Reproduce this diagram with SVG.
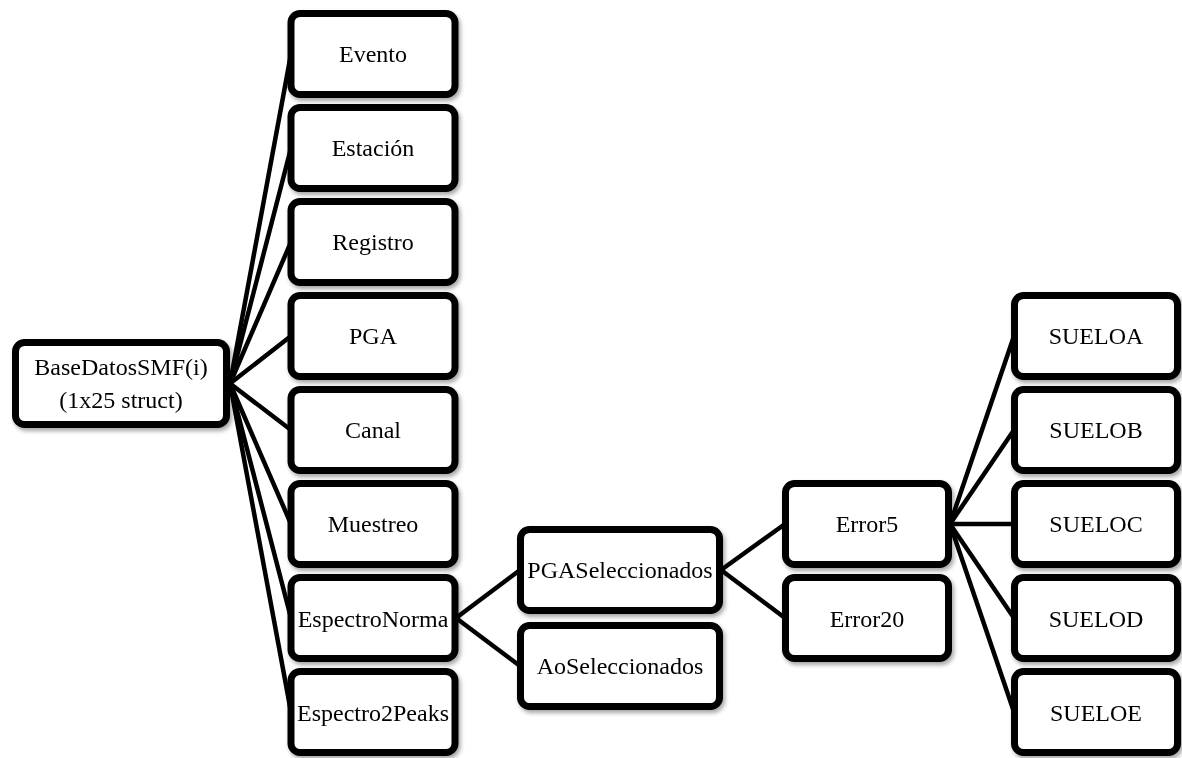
<svg xmlns="http://www.w3.org/2000/svg" width="1182" height="758" viewBox="0 0 1182 758">
  <style>
    .box { fill: #ffffff; stroke: #000000; stroke-width: 7; }
    .label { font-family: "Liberation Serif", "Times New Roman", serif; font-size: 24px; fill: #000000; text-anchor: middle; }
    .link { stroke: #000000; stroke-width: 4.5; fill: none; stroke-linecap: round; }
  </style>
  <defs>
    <filter id="shadow" x="-10%" y="-10%" width="125%" height="130%">
      <feDropShadow dx="2" dy="3" stdDeviation="2" flood-color="#000000" flood-opacity="0.35"/>
    </filter>
  </defs>
  <rect width="1182" height="758" fill="#ffffff"/>

  <!-- connectors -->
  <g id="connectors">
    <!-- root to fields -->
    <line class="link" x1="230" y1="383.5" x2="291" y2="54"/>
    <line class="link" x1="230" y1="383.5" x2="291" y2="148"/>
    <line class="link" x1="230" y1="383.5" x2="291" y2="242"/>
    <line class="link" x1="230" y1="383.5" x2="291" y2="336"/>
    <line class="link" x1="230" y1="383.5" x2="291" y2="430"/>
    <line class="link" x1="230" y1="383.5" x2="291" y2="524"/>
    <line class="link" x1="230" y1="383.5" x2="291" y2="618"/>
    <line class="link" x1="230" y1="383.5" x2="291" y2="712"/>
    <!-- EspectroNorma children -->
    <line class="link" x1="456" y1="618" x2="520" y2="570"/>
    <line class="link" x1="456" y1="618" x2="520" y2="666"/>
    <!-- PGASeleccionados children -->
    <line class="link" x1="721" y1="570" x2="785" y2="524"/>
    <line class="link" x1="721" y1="570" x2="785" y2="618"/>
    <!-- Error5 children -->
    <line class="link" x1="950" y1="524" x2="1014" y2="336"/>
    <line class="link" x1="950" y1="524" x2="1014" y2="430"/>
    <line class="link" x1="950" y1="524" x2="1014" y2="524"/>
    <line class="link" x1="950" y1="524" x2="1014" y2="618"/>
    <line class="link" x1="950" y1="524" x2="1014" y2="712"/>
  </g>

  <!-- root -->
  <g id="node-root" filter="url(#shadow)">
    <rect class="box" x="15.5" y="342.5" width="211" height="82" rx="9"/>
    <text class="label" x="121" y="375">BaseDatosSMF(i)</text>
    <text class="label" x="121" y="408">(1x25 struct)</text>
  </g>

  <!-- fields -->
  <g id="node-evento" filter="url(#shadow)">
    <rect class="box" x="291" y="13.5" width="164" height="81" rx="9"/>
    <text class="label" x="373" y="62">Evento</text>
  </g>
  <g id="node-estacion" filter="url(#shadow)">
    <rect class="box" x="291" y="107.5" width="164" height="81" rx="9"/>
    <text class="label" x="373" y="156">Estación</text>
  </g>
  <g id="node-registro" filter="url(#shadow)">
    <rect class="box" x="291" y="201.5" width="164" height="81" rx="9"/>
    <text class="label" x="373" y="250">Registro</text>
  </g>
  <g id="node-pga" filter="url(#shadow)">
    <rect class="box" x="291" y="295.5" width="164" height="81" rx="9"/>
    <text class="label" x="373" y="344">PGA</text>
  </g>
  <g id="node-canal" filter="url(#shadow)">
    <rect class="box" x="291" y="389.5" width="164" height="81" rx="9"/>
    <text class="label" x="373" y="438">Canal</text>
  </g>
  <g id="node-muestreo" filter="url(#shadow)">
    <rect class="box" x="291" y="483.5" width="164" height="81" rx="9"/>
    <text class="label" x="373" y="532">Muestreo</text>
  </g>
  <g id="node-espectronorma" filter="url(#shadow)">
    <rect class="box" x="291" y="577.5" width="164" height="81" rx="9"/>
    <text class="label" x="373" y="627">EspectroNorma</text>
  </g>
  <g id="node-espectro2peaks" filter="url(#shadow)">
    <rect class="box" x="291" y="671.5" width="164" height="81" rx="9"/>
    <text class="label" x="373" y="721">Espectro2Peaks</text>
  </g>

  <!-- selections -->
  <g id="node-pgaseleccionados" filter="url(#shadow)">
    <rect class="box" x="520.5" y="529.5" width="199" height="81" rx="9"/>
    <text class="label" x="620" y="578">PGASeleccionados</text>
  </g>
  <g id="node-aoseleccionados" filter="url(#shadow)">
    <rect class="box" x="520.5" y="625.5" width="199" height="81" rx="9"/>
    <text class="label" x="620" y="674">AoSeleccionados</text>
  </g>

  <!-- error levels -->
  <g id="node-error5" filter="url(#shadow)">
    <rect class="box" x="785.5" y="483.5" width="163" height="81" rx="9"/>
    <text class="label" x="867" y="532">Error5</text>
  </g>
  <g id="node-error20" filter="url(#shadow)">
    <rect class="box" x="785.5" y="577.5" width="163" height="81" rx="9"/>
    <text class="label" x="867" y="627">Error20</text>
  </g>

  <!-- soil classes -->
  <g id="node-sueloa" filter="url(#shadow)">
    <rect class="box" x="1014.5" y="295.5" width="163" height="81" rx="9"/>
    <text class="label" x="1096" y="344">SUELOA</text>
  </g>
  <g id="node-suelob" filter="url(#shadow)">
    <rect class="box" x="1014.5" y="389.5" width="163" height="81" rx="9"/>
    <text class="label" x="1096" y="438">SUELOB</text>
  </g>
  <g id="node-sueloc" filter="url(#shadow)">
    <rect class="box" x="1014.5" y="483.5" width="163" height="81" rx="9"/>
    <text class="label" x="1096" y="532">SUELOC</text>
  </g>
  <g id="node-suelod" filter="url(#shadow)">
    <rect class="box" x="1014.5" y="577.5" width="163" height="81" rx="9"/>
    <text class="label" x="1096" y="627">SUELOD</text>
  </g>
  <g id="node-sueloe" filter="url(#shadow)">
    <rect class="box" x="1014.5" y="671.5" width="163" height="81" rx="9"/>
    <text class="label" x="1096" y="721">SUELOE</text>
  </g>
</svg>
